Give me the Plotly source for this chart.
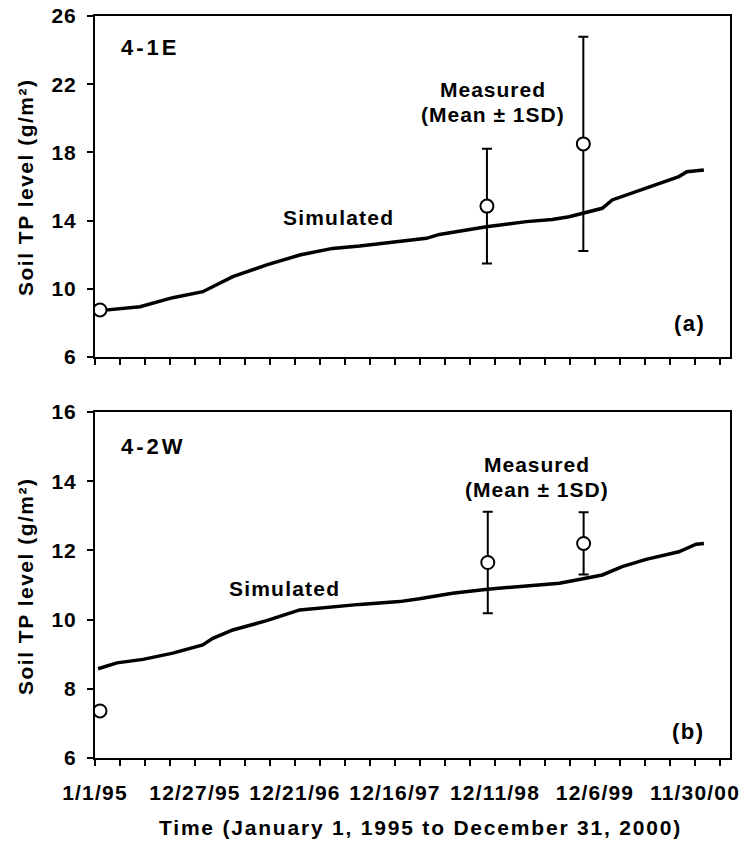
import pandas as pd
import plotly.graph_objects as go

START = pd.Timestamp("1995-01-01")

# x tick labels (dates)
tick_labels = ["1/1/95", "12/27/95", "12/21/96", "12/16/97", "12/11/98", "12/6/99", "11/30/00"]

# Panel (a) 4-1E simulated (day offset from 1/1/95, value)
sim_a_day = [18, 162, 280, 388, 496, 618, 737, 855, 953, 1071, 1193, 1240, 1409, 1553,
             1646, 1707, 1826, 1862, 1984, 2102, 2131, 2192]
sim_a_val = [8.72, 8.95, 9.48, 9.83, 10.71, 11.40, 11.98, 12.37, 12.51, 12.73, 12.96, 13.19,
             13.64, 13.94, 14.07, 14.23, 14.72, 15.21, 15.89, 16.58, 16.87, 16.97]
meas_a_day = [18, 1411, 1758]
meas_a_mean = [8.76, 14.85, 18.5]
meas_a_sd = [0.0, 3.37, 6.28]

# Panel (b) 4-2W simulated
sim_b_day = [11, 79, 173, 280, 388, 424, 496, 618, 737, 855, 953, 1096, 1168, 1287, 1413,
             1553, 1672, 1743, 1826, 1898, 1984, 2102, 2164, 2192]
sim_b_val = [8.58, 8.75, 8.85, 9.03, 9.27, 9.46, 9.70, 9.97, 10.28, 10.37, 10.44, 10.52,
             10.60, 10.76, 10.88, 10.97, 11.05, 11.16, 11.29, 11.53, 11.74, 11.96, 12.18, 12.20]
meas_b_day = [18, 1414, 1759]
meas_b_mean = [7.36, 11.65, 12.2]
meas_b_sd = [0.0, 1.47, 0.9]

yticks_a = [6, 10, 14, 18, 22, 26]
yticks_b = [6, 8, 10, 12, 14, 16]


def d(days):
    return [START + pd.Timedelta(days=int(v)) for v in days]


FONT = "Liberation Sans, Arial, sans-serif"


def sp(t, ls):
    return f'<span style="letter-spacing:{ls}px">{t}</span>'


fig = go.Figure()

for xa, ya, sd_, sv, md, mm, ms in [
    ("x", "y", sim_a_day, sim_a_val, meas_a_day, meas_a_mean, meas_a_sd),
    ("x2", "y2", sim_b_day, sim_b_val, meas_b_day, meas_b_mean, meas_b_sd),
]:
    fig.add_trace(go.Scatter(x=d(sd_), y=sv, mode="lines", xaxis=xa, yaxis=ya,
                             line=dict(color="black", width=3.5), showlegend=False))
    fig.add_trace(go.Scatter(x=d(md), y=mm, mode="markers", xaxis=xa, yaxis=ya,
                             error_y=dict(type="data", array=ms, color="black", thickness=2, width=5),
                             marker=dict(size=13, color="white", line=dict(color="black", width=2)),
                             showlegend=False))

tickvals_x = d([360 * i for i in range(len(tick_labels))])
xrange = [START, START + pd.Timedelta(days=2286)]

xcommon = dict(range=xrange, type="date", showline=True, mirror=True, linecolor="black", linewidth=2,
               ticks="outside", ticklen=6, tickwidth=2, tickcolor="black", tickmode="array",
               tickvals=tickvals_x, showgrid=False, zeroline=False, automargin=False,
               minor=dict(tick0=START, dtick=90 * 86400000, ticks="outside", ticklen=6,
                          tickwidth=2, tickcolor="black", showgrid=False),
               tickfont=dict(family=FONT, size=21, color="black", weight="bold"))
ycommon = dict(showline=True, mirror=True, linecolor="black", linewidth=2, ticks="outside",
               ticklen=6, tickwidth=2, tickcolor="black", showgrid=False, zeroline=False,
               tickmode="array", ticklabelstandoff=6, automargin=False,
               tickfont=dict(family=FONT, size=21, color="black", weight="bold"))

fig.update_layout(
    width=746, height=841, margin=dict(l=0, r=0, t=0, b=0, autoexpand=False),
    paper_bgcolor="white", plot_bgcolor="white",
    xaxis=dict(domain=[95 / 746, 730 / 746], anchor="y", showticklabels=False, **xcommon),
    xaxis2=dict(domain=[95 / 746, 730 / 746], anchor="y2", ticktext=[sp(t, 1.2) for t in tick_labels],
                ticklabelstandoff=9, **xcommon),
    yaxis=dict(domain=[1 - 357 / 841, 1 - 16 / 841], anchor="x", range=[6, 26], tickvals=yticks_a,
               ticktext=[sp(str(v), 1) for v in yticks_a], **ycommon),
    yaxis2=dict(domain=[1 - 758 / 841, 1 - 412 / 841], anchor="x2", range=[6, 16], tickvals=yticks_b,
                ticktext=[sp(str(v), 1) for v in yticks_b], **ycommon),
)

# (xref, yref, x, y, text, xanchor, font size, letter spacing)
ann = [
    ("x domain", "y domain", 0.038, 0.909, "4-1E", "left", 22, 3),
    ("x domain", "y domain", 0.384, 0.41, "Simulated", "center", 21, 1.2),
    ("x domain", "y domain", 0.627, 0.783, "Measured", "center", 21, 1.0),
    ("x domain", "y domain", 0.627, 0.710, "(Mean ± 1SD)", "center", 21, 1.0),
    ("x domain", "y domain", 0.963, 0.0997, "(a)", "right", 22, 1.5),
    ("x2 domain", "y2 domain", 0.038, 0.899, "4-2W", "left", 22, 3),
    ("x2 domain", "y2 domain", 0.298, 0.491, "Simulated", "center", 21, 1.2),
    ("x2 domain", "y2 domain", 0.696, 0.847, "Measured", "center", 21, 1.0),
    ("x2 domain", "y2 domain", 0.696, 0.775, "(Mean ± 1SD)", "center", 21, 1.0),
    ("x2 domain", "y2 domain", 0.963, 0.078, "(b)", "right", 22, 1.5),
]
for xr, yr, x, y, t, xa, fs, ls in ann:
    fig.add_annotation(xref=xr, yref=yr, x=x, y=y, text=sp(t, ls), showarrow=False,
                       xanchor=xa, yanchor="middle",
                       font=dict(family=FONT, size=fs, color="black", weight="bold"))

tfont = dict(family=FONT, size=21, color="black", weight="bold")
ytitle = sp("Soil TP level (g/m²)", 1.5)
for yc in [1 - 188 / 841, 1 - 587 / 841]:
    fig.add_annotation(xref="paper", yref="paper", x=25 / 746, y=yc, text=ytitle, textangle=-90,
                       showarrow=False, xanchor="center", yanchor="middle", font=tfont)
fig.add_annotation(xref="paper", yref="paper", x=420 / 746, y=1 - 827 / 841,
                   text=sp("Time (January 1, 1995 to December 31, 2000)", 1.8),
                   showarrow=False, xanchor="center", yanchor="middle", font=tfont)

fig.write_html("out.html")
